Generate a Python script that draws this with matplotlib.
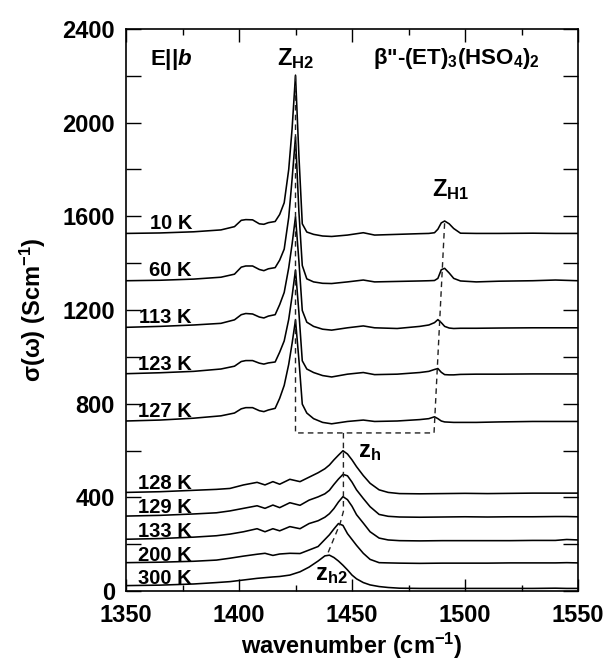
import matplotlib
matplotlib.use('Agg')
import matplotlib.pyplot as plt
from matplotlib.ticker import MultipleLocator

plt.rcParams['font.family'] = 'Liberation Sans'
plt.rcParams['font.weight'] = 'bold'
plt.rcParams['mathtext.fontset'] = 'custom'
plt.rcParams['mathtext.rm'] = 'Liberation Sans:bold'
plt.rcParams['mathtext.bf'] = 'Liberation Sans:bold'
plt.rcParams['mathtext.it'] = 'Liberation Sans:italic:bold'
plt.rcParams['mathtext.default'] = 'rm'

# Low-temperature spectra (charge-ordered phase), wavenumber grid
wn_hi = [1350, 1365, 1380, 1392, 1398, 1401, 1403, 1406, 1409, 1411, 1413, 1416, 1418, 1420,
         1422, 1423.5, 1425, 1426.5, 1428, 1430, 1433, 1437, 1441, 1448, 1455, 1460, 1470,
         1480, 1484, 1486.5, 1488, 1489.5, 1491, 1493, 1495, 1498, 1505, 1515, 1530, 1540, 1550]

s_10K = [1527, 1529, 1534, 1542, 1556, 1583, 1586, 1585, 1568, 1566, 1573, 1578, 1608, 1658,
         1800, 1975, 2203, 1860, 1568, 1533, 1523, 1516, 1514, 1520, 1530, 1520, 1523,
         1526, 1527, 1530, 1545, 1572, 1580, 1568, 1548, 1528, 1527, 1527, 1528, 1527, 1527]
s_60K = [1325, 1327, 1332, 1340, 1353, 1383, 1388, 1388, 1373, 1368, 1376, 1381, 1413, 1460,
         1595, 1760, 1940, 1620, 1390, 1333, 1320, 1314, 1313, 1320, 1328, 1320, 1322,
         1324, 1325, 1326, 1335, 1372, 1378, 1358, 1335, 1324, 1320, 1323, 1325, 1328, 1325]
s_113K = [1126, 1130, 1136, 1143, 1158, 1180, 1185, 1183, 1170, 1166, 1174, 1180, 1223, 1275,
          1380, 1482, 1598, 1410, 1198, 1148, 1130, 1118, 1114, 1124, 1132, 1124, 1121,
          1130, 1136, 1146, 1159, 1146, 1130, 1123, 1121, 1122, 1122, 1123, 1124, 1124, 1124]
s_123K = [928, 932, 938, 948, 960, 980, 984, 984, 973, 969, 974, 978, 1020, 1068,
          1160, 1260, 1371, 1190, 983, 948, 933, 920, 914, 926, 933, 924, 926,
          933, 938, 946, 950, 934, 924, 923, 923, 925, 926, 926, 927, 927, 927]
s_127K = [726, 730, 738, 748, 760, 778, 783, 783, 770, 766, 773, 780, 823, 878,
          968, 1058, 1157, 988, 798, 760, 736, 720, 714, 724, 730, 724, 726,
          732, 736, 744, 736, 726, 722, 721, 720, 720, 720, 722, 724, 724, 724]

# High-temperature spectra
wn_lo = [1350, 1365, 1380, 1390, 1396, 1402, 1408, 1411.5, 1415, 1418, 1422.5, 1427, 1431,
         1435, 1438, 1440, 1442, 1444, 1446, 1448, 1450, 1452, 1455, 1458, 1462, 1466, 1471,
         1480, 1490, 1500, 1510, 1520, 1530, 1540, 1545, 1550]

s_128K = [421, 424, 430, 434, 438, 453, 464, 453, 467, 456, 477, 467, 486,
          505, 522, 538, 560, 580, 599, 585, 560, 531, 493, 460, 432, 421, 416,
          415, 416, 417, 416, 417, 418, 418, 418, 418]
s_129K = [320, 323, 329, 334, 342, 353, 364, 353, 367, 356, 377, 366, 388,
          402, 415, 430, 455, 478, 498, 492, 465, 432, 395, 360, 327, 319, 316,
          315, 316, 317, 316, 317, 317, 318, 318, 317]
s_133K = [221, 224, 230, 236, 243, 253, 266, 253, 266, 257, 275, 266, 288,
          300, 315, 330, 352, 380, 403, 390, 362, 326, 290, 253, 226, 218, 215,
          214, 215, 215, 215, 215, 216, 216, 220, 218]
s_200K = [121, 123, 127, 132, 140, 149, 157, 161, 152, 158, 161, 160, 175,
          190, 220, 240, 265, 288, 280, 245, 220, 195, 161, 135, 121, 120, 119,
          118, 119, 119, 119, 120, 120, 120, 121, 120]
s_300K = [23, 25, 30, 36, 40, 47, 54, 57, 60, 62, 68, 82, 102,
          128, 150, 153, 143, 128, 110, 90, 68, 52, 36, 26, 19, 15, 12,
          11, 11, 11, 11, 11, 11, 12, 11, 11]

spectra_hi = [s_10K, s_60K, s_113K, s_123K, s_127K]
spectra_lo = [s_128K, s_129K, s_133K, s_200K, s_300K]
labels_hi = ['10 K', '60 K', '113 K', '123 K', '127 K']
labels_lo = ['128 K', '129 K', '133 K', '200 K', '300 K']
label_y_hi = [1545, 1345, 1143, 944, 742]
label_y_lo = [434, 332, 232, 129, 30]

# mode positions traced through the spectra (dashed guides)
zH_x = [1425, 1425, 1486.3, 1491]
zH_y = [2200, 675, 675, 1575]
zh_x = [1446.2, 1446.2, 1444.8, 1439]
zh_y = [675, 340, 290, 154]

fig = plt.figure(figsize=(6.04, 6.64), dpi=100)
ax = fig.add_axes([126 / 604, 73 / 664, 452 / 604, 562 / 664])

for s in spectra_hi:
    ax.plot(wn_hi, s, color='black', lw=1.15)
for s in spectra_lo:
    ax.plot(wn_lo, s, color='black', lw=1.15)

for lab, y in zip(labels_hi + labels_lo, label_y_hi + label_y_lo):
    ax.text(1379.2, y, lab, ha='right', va='baseline', fontsize=14.5, fontweight='bold')

ax.plot(zH_x, zH_y, color='#222222', lw=1.0, dashes=(4, 3))
ax.plot(zh_x, zh_y, color='#222222', lw=1.0, dashes=(4, 3))

ax.text(1360.6, 2247, r'E||$\mathit{b}$', fontsize=16, va='baseline')
ax.text(1417.0, 2247, r'Z$_{\rm H2}$', fontsize=17, va='baseline')
ax.text(1459.3, 2250, r'β"-(ET)$_3$(HSO$_4$)$_2$', fontsize=16, va='baseline')
ax.text(1485.3, 1687, r'Z$_{\rm H1}$', fontsize=17, va='baseline')
ax.text(1452.8, 572, r'z$_{\rm h}$', fontsize=17, va='baseline')
ax.text(1433.6, 47, r'z$_{\rm h2}$', fontsize=17, va='baseline')

ax.set_xlim(1350, 1550)
ax.set_ylim(0, 2400)
ax.xaxis.set_major_locator(MultipleLocator(50))
ax.xaxis.set_minor_locator(MultipleLocator(25))
ax.yaxis.set_major_locator(MultipleLocator(400))
ax.yaxis.set_minor_locator(MultipleLocator(200))
ax.tick_params(which='both', direction='in', top=True, right=True, width=1.0)
ax.tick_params(axis='x', which='major', length=9, labelsize=17, pad=9)
ax.tick_params(axis='x', which='minor', length=4)
ax.tick_params(axis='y', which='both', length=11, labelsize=17, pad=8)
for sp in ax.spines.values():
    sp.set_linewidth(1.2)

ax.set_xlabel('wavenumber (cm$^{-1}$)', fontsize=17, fontweight='bold', labelpad=3)
ax.set_ylabel('σ(ω) (Scm$^{-1}$)', fontsize=17, fontweight='bold', labelpad=10)

fig.savefig('out.png', dpi=100)
